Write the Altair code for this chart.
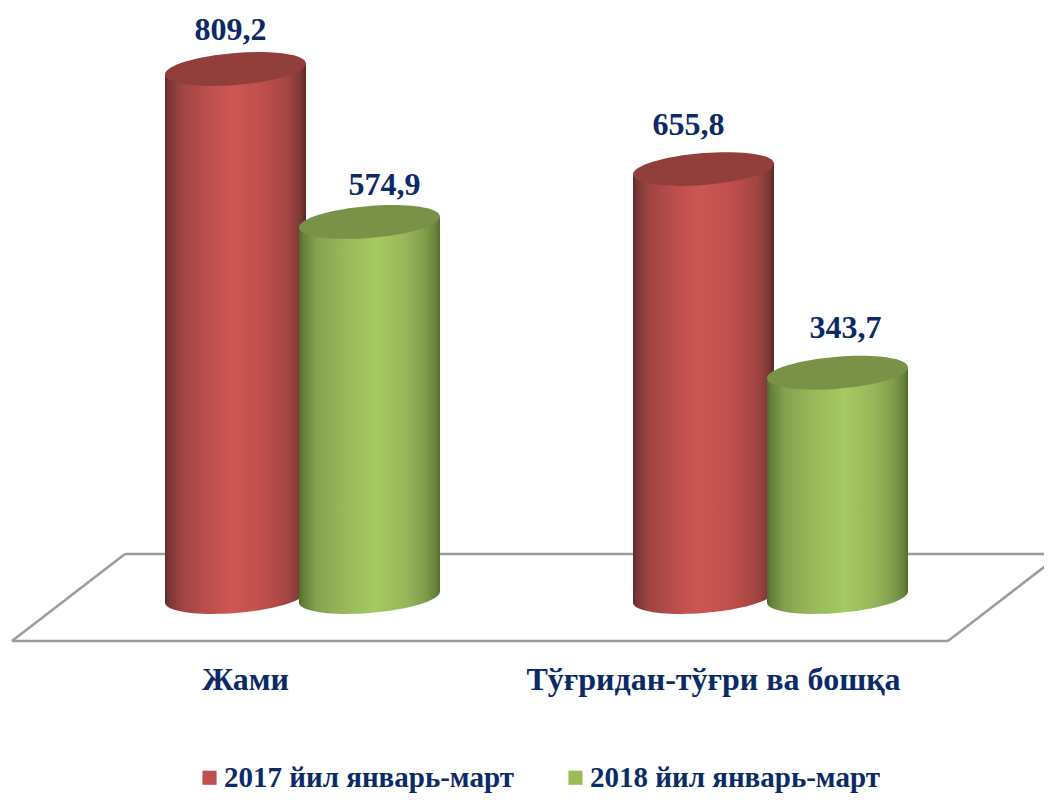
import altair as alt
import pandas as pd

categories = ["Жами", "Тўғридан-тўғри ва бошқа"]
series = ["2017 йил январь-март", "2018 йил январь-март"]
values_2017 = [809.2, 655.8]
values_2018 = [574.9, 343.7]
labels_2017 = ["809,2", "655,8"]
labels_2018 = ["574,9", "343,7"]

df_a = pd.DataFrame({"cat": categories, "series": series[0], "value": values_2017, "label": labels_2017, "zero": 0})
df_b = pd.DataFrame({"cat": categories, "series": series[1], "value": values_2018, "label": labels_2018, "zero": 0})

NAVY = "#0b2a66"
FONT = "Liberation Serif"
CYL_W = 141
K = 0.5523
SH = -0.078   # shear of the cylinder ellipses
B = 0.227     # relative half height


def p(x, y):
    return f"{x:.4f},{y + SH * x:.4f}"


ELLIPSE = (
    f"M{p(1, 0)}C{p(1, K*B)} {p(K, B)} {p(0, B)}"
    f"C{p(-K, B)} {p(-1, K*B)} {p(-1, 0)}"
    f"C{p(-1, -K*B)} {p(-K, -B)} {p(0, -B)}"
    f"C{p(K, -B)} {p(1, -K*B)} {p(1, 0)}Z"
)
TOP_TRI = f"M{p(-1, 0)}L{p(1, 0)}L1,{-SH:.4f}L-1,{-SH:.4f}Z"
BOT_TRI = f"M{p(-1, 0)}L{p(1, 0)}L-1,{SH:.4f}Z"


def grad(stops):
    return {
        "gradient": "linear", "x1": 0, "y1": 0, "x2": 1, "y2": 0,
        "stops": [{"offset": o, "color": c} for o, c in stops],
    }


RED = grad([(0, "#5f2b2a"), (0.03, "#7a3635"), (0.12, "#a04543"), (0.3, "#ba4f4c"),
            (0.47, "#cd5653"), (0.7, "#c04f4c"), (0.88, "#a04543"), (0.96, "#7f3836"), (1, "#5a2827")])
GREEN = grad([(0, "#50692e"), (0.03, "#64803a"), (0.12, "#83a04d"), (0.3, "#97b659"),
              (0.55, "#a6c962"), (0.75, "#98b75a"), (0.88, "#83a04d"), (0.96, "#6b863c"), (1, "#566f30")])

x = alt.X(
    "cat:N",
    sort=categories,
    scale=alt.Scale(domain=categories, range=[60.5, 996.5], paddingInner=0.42735, paddingOuter=0.21368),
    axis=alt.Axis(
        title=None, domain=False, ticks=False, labelAngle=0, labelFont=FONT, labelFontSize=32,
        labelFontWeight="bold", labelColor=NAVY, labelPadding=67, labelOffset=-57, labelLimit=600,
    ),
)
xo = alt.XOffset("series:N", sort=series, scale=alt.Scale(domain=series))
y = alt.Y("value:Q", scale=alt.Scale(domain=[0, 902.7]), axis=None)
y0 = alt.Y("zero:Q", scale=alt.Scale(domain=[0, 902.7]), axis=None)


def cylinder(frame, fill, top):
    s = alt.Chart(frame).encode(x=x, xOffset=xo, y=y)
    sym = dict(filled=True, strokeWidth=0, opacity=1, size=CYL_W ** 2)
    return [
        s.mark_point(shape=ELLIPSE, fill=fill, **sym).encode(y=y0),
        s.mark_point(shape=BOT_TRI, fill=fill, **sym).encode(y=y0),
        s.mark_bar(width=CYL_W, fill=fill, yOffset=5).encode(y2=alt.datum(7.6)),
        s.mark_point(shape=TOP_TRI, fill=fill, **sym),
        s.mark_point(shape=ELLIPSE, fill=top, **sym),
    ]


def value_label(frame, row, dx, dy):
    return (
        alt.Chart(frame.iloc[[row]])
        .encode(x=x, xOffset=xo, y=y)
        .mark_text(font=FONT, fontSize=32, fontWeight="bold", color=NAVY, baseline="alphabetic", dx=dx, dy=dy)
        .encode(text="label:N")
    )


def rule(x1, y1, x2, y2):
    return (
        alt.Chart(df_a.head(1))
        .mark_rule(color="#9c9c9c", strokeWidth=2.5)
        .encode(x=alt.value(x1), y=alt.value(y1), x2=alt.value(x2), y2=alt.value(y2))
    )


floor = [
    rule(117, 546, 1044, 546),
    rule(4, 633, 940, 633),
    rule(4, 633, 117, 546),
    rule(940, 633, 1053, 546),
]

legend_layer = (
    alt.Chart(pd.DataFrame({"series": series}))
    .mark_point(filled=True, shape="square", opacity=0)
    .encode(
        color=alt.Color(
            "series:N",
            scale=alt.Scale(domain=series, range=["#c0504d", "#9bbb59"]),
            legend=alt.Legend(
                title=None, orient="none", legendX=187, legendY=755, direction="horizontal", columns=2,
                symbolType="square", symbolSize=200, symbolOpacity=1, symbolStrokeWidth=0,
                labelFont=FONT, labelFontSize=29, labelFontWeight="bold", labelColor=NAVY,
                labelLimit=400, columnPadding=47, labelOffset=0,
            ),
        )
    )
)

layers = (
    floor
    + cylinder(df_a, RED, "#923f3c")
    + cylinder(df_b, GREEN, "#7a9148")
    + [
        value_label(df_a, 0, -5, -29),
        value_label(df_b, 0, 15, -27),
        value_label(df_a, 1, -15, -34),
        value_label(df_b, 1, 8, -35),
        legend_layer,
    ]
)

chart = (
    alt.layer(*layers)
    .properties(
        width=1036, height=589,
        autosize=alt.AutoSizeParams(type="none"),
        padding={"left": 0, "top": 0, "right": 0, "bottom": 198},
    )
    .configure_view(stroke=None)
)

chart.save("out.html", embed_options={"renderer": "svg", "actions": False})
